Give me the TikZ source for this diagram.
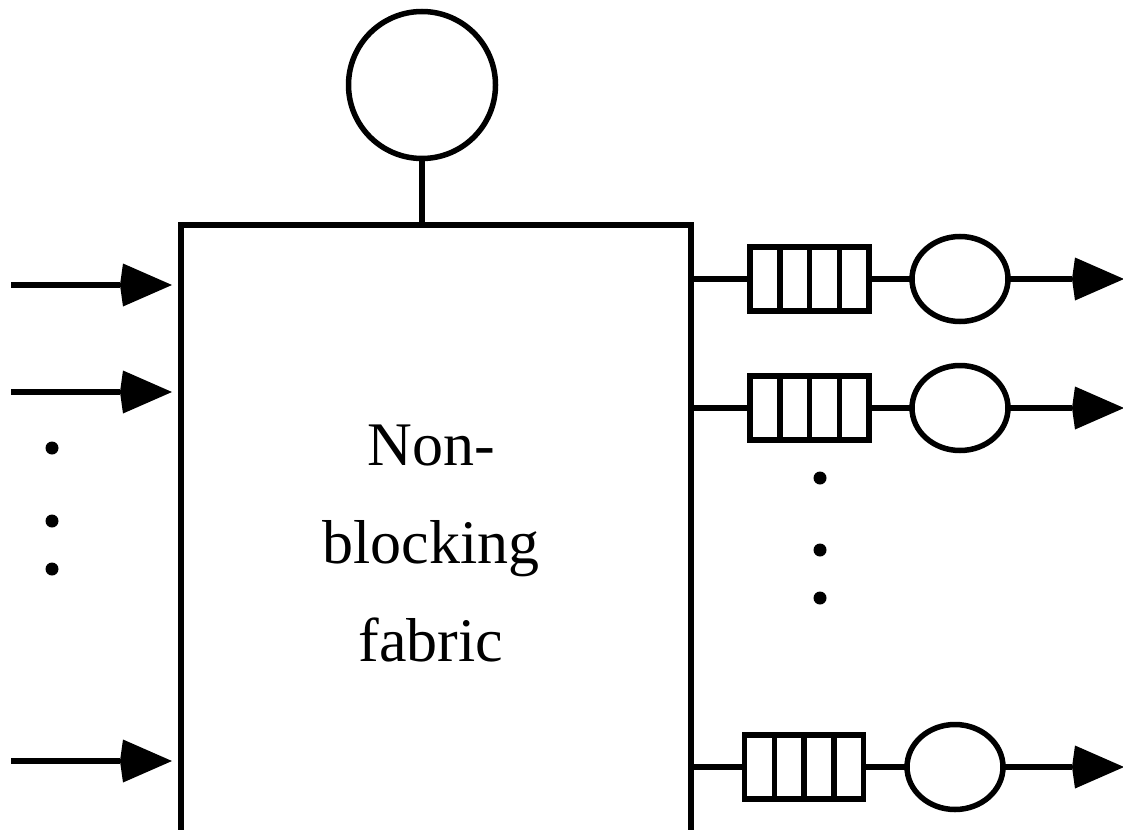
\documentclass[tikz,border=0pt]{standalone}
\usepackage{fontspec}
\setmainfont{Liberation Serif}
\usetikzlibrary{arrows.meta,shapes.geometric,calc}

\begin{document}
\begin{tikzpicture}[x=1pt,y=-1pt,line width=5.5pt,
  tip/.style={-{Stealth[length=49pt,width=43pt,inset=-3pt,line width=0pt]}},
  queue/.style={draw,rectangle,minimum width=119pt,minimum height=64pt,inner sep=0pt,outer sep=0pt,
    path picture={\foreach \k in {1,2,3}{\draw ($(path picture bounding box.south west)!\k/4!(path picture bounding box.south east)$) -- ($(path picture bounding box.north west)!\k/4!(path picture bounding box.north east)$);}}},
  server/.style={draw,ellipse,minimum width=96pt,minimum height=85pt,inner sep=0pt,outer sep=0pt},
  dot/.style={circle,fill,inner sep=0pt,minimum size=13pt}]
\useasboundingbox (0,0) rectangle (1123,829);
\clip (0,0) rectangle (1123,829);

% switching fabric and its scheduler
\node[draw,minimum width=510pt,minimum height=640pt,anchor=north west,inner sep=0pt,outer sep=0pt] (fabric) at (181,225) {};
\node[draw,circle,minimum size=147pt,inner sep=0pt,outer sep=0pt] (ctrl) at (422,85) {};
\draw (ctrl.south) -- (ctrl.south |- fabric.north);
\node[font=\fontsize{62}{98}\selectfont,align=center,anchor=north,inner sep=0pt] (label) at (431,422) {Non-\\blocking\\fabric};

% inputs
\foreach \y [count=\i] in {285,392,761}{
  \coordinate (in\i) at (11,\y);
  \draw[tip,shorten >=9pt] (in\i) -- (in\i -| fabric.west);
}
\node[dot] (ldot1) at (52,448) {};
\node[dot] (ldot2) at (52,521) {};
\node[dot] (ldot3) at (52,569) {};

% output queues and servers
\node[queue] (q1) at (809.5,279) {};
\node[server] (s1) at (960,279) {};
\coordinate (out1) at (1124,279);
\node[queue] (q2) at (809.5,408) {};
\node[server] (s2) at (960,408) {};
\coordinate (out2) at (1124,408);
\node[queue] (q3) at (804,767) {};
\node[server] (s3) at (955,767) {};
\coordinate (out3) at (1124,767);
\foreach \i in {1,2,3}{
  \draw (fabric.east |- q\i.west) -- (q\i.west);
  \draw (q\i.east) -- (s\i.west);
  \draw[tip] (s\i.east) -- (out\i);
}
\node[dot] (rdot1) at (820,478) {};
\node[dot] (rdot2) at (820,550) {};
\node[dot] (rdot3) at (820,598) {};
\end{tikzpicture}
\end{document}
